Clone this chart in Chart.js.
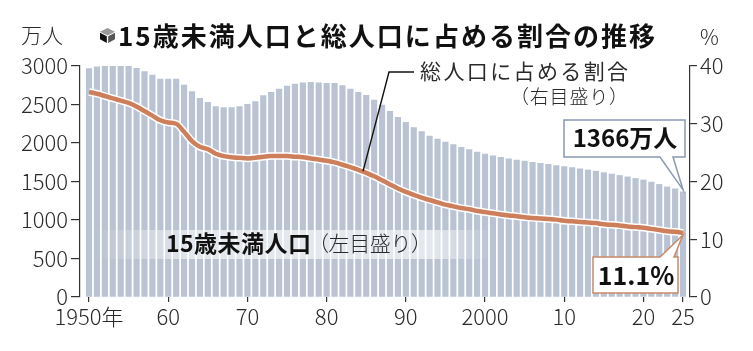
<!DOCTYPE html>
<html><head><meta charset="utf-8">
<script src="https://cdn.jsdelivr.net/npm/chart.js@4/dist/chart.umd.min.js"></script>
<style>html,body{margin:0;padding:0;background:#fff;}#wrap{width:753px;height:351px;}</style>
</head><body><div id="wrap"><canvas id="c" width="753" height="351"></canvas></div>
<script>
const years = [1950,1951,1952,1953,1954,1955,1956,1957,1958,1959,1960,1961,1962,1963,1964,1965,1966,1967,1968,1969,1970,1971,1972,1973,1974,1975,1976,1977,1978,1979,1980,1981,1982,1983,1984,1985,1986,1987,1988,1989,1990,1991,1992,1993,1994,1995,1996,1997,1998,1999,2000,2001,2002,2003,2004,2005,2006,2007,2008,2009,2010,2011,2012,2013,2014,2015,2016,2017,2018,2019,2020,2021,2022,2023,2024,2025];
const under15 = [2965,2990,2995,3000,3010,3005,2970,2926,2883,2831,2831,2831,2753,2667,2580,2528,2472,2459,2459,2472,2502,2537,2615,2658,2701,2740,2766,2783,2788,2783,2775,2775,2745,2701,2658,2619,2558,2494,2410,2333,2268,2199,2147,2091,2052,2013,1978,1944,1913,1883,1857,1835,1814,1796,1779,1766,1749,1735,1722,1708,1694,1680,1665,1650,1635,1615,1597,1578,1560,1540,1520,1493,1462,1430,1405,1366];
const ratio = [35.5,35.2,34.8,34.4,34.0,33.6,33.0,32.2,31.4,30.6,30.2,30.0,28.6,27.0,26.0,25.6,24.8,24.4,24.2,24.1,24.0,24.1,24.3,24.4,24.4,24.4,24.3,24.2,24.0,23.8,23.6,23.3,22.9,22.5,22.0,21.5,20.9,20.2,19.5,18.8,18.2,17.7,17.2,16.8,16.4,16.0,15.7,15.4,15.2,14.9,14.7,14.5,14.3,14.1,14.0,13.8,13.7,13.6,13.5,13.4,13.2,13.1,13.0,12.9,12.8,12.6,12.5,12.4,12.2,12.1,12.0,11.8,11.6,11.4,11.3,11.1];
const xTickValues = [1950,1960,1970,1980,1990,2000,2010,2020,2025];
const xTickLabels = ['1950年','60','70','80','90','2000','10','20','25'];
const title = '15歳未満人口と総人口に占める割合の推移';
const leftUnit = '万人';
const rightUnit = '%';
const lineLabel1 = '総人口に占める割合';
const lineLabel2 = '（右目盛り）';
const barLabelBold = '15歳未満人口';
const barLabelNorm = '（左目盛り）';
const lastBarText = '1366万人';
const lastRatioText = '11.1%';

const FF = "'Noto Sans CJK JP','Noto Sans',sans-serif";
const BAR = '#bac3d4';
const LINE = '#cd7f5b';
const TXT = '#2a2a2a';

function spaced(ctx, text, x, y, w) {
  const ch = [...text];
  const ws = ch.map(c => ctx.measureText(c).width);
  const tot = ws.reduce((a,b)=>a+b,0);
  const gap = ch.length > 1 ? (w - tot)/(ch.length-1) : 0;
  let cx = x;
  ch.forEach((c,i)=>{ ctx.fillText(c, cx, y); cx += ws[i] + gap; });
}

const deco = {
  id: 'deco',
  afterDatasetsDraw(chart) {
    const ctx = chart.ctx;
    ctx.save();
    const g = ctx.createLinearGradient(95, 0, 492, 0);
    g.addColorStop(0, 'rgba(255,255,255,0)');
    g.addColorStop(0.25, 'rgba(255,255,255,0.6)');
    g.addColorStop(0.85, 'rgba(255,255,255,0.6)');
    g.addColorStop(1, 'rgba(255,255,255,0)');
    ctx.fillStyle = g;
    ctx.fillRect(95, 230, 397, 29);
    ctx.restore();
  },
  afterDraw(chart) {
    const ctx = chart.ctx;
    const xs = chart.scales.x, ys = chart.scales.y, y1 = chart.scales.y1;
    ctx.save();
    ctx.textBaseline = 'middle';
    // cube icon
    const cx = 107.5, cy = 35.5, r = 7.5;
    ctx.fillStyle = '#9a9a9a';
    ctx.beginPath(); ctx.moveTo(cx, cy-r); ctx.lineTo(cx+r, cy-r/2); ctx.lineTo(cx, cy); ctx.lineTo(cx-r, cy-r/2); ctx.closePath(); ctx.fill();
    ctx.fillStyle = '#111';
    ctx.beginPath(); ctx.moveTo(cx-r, cy-r/2+1); ctx.lineTo(cx-0.7, cy+0.7); ctx.lineTo(cx-0.7, cy+r); ctx.lineTo(cx-r, cy+r/2); ctx.closePath(); ctx.fill();
    ctx.fillStyle = '#555';
    ctx.beginPath(); ctx.moveTo(cx+r, cy-r/2+1); ctx.lineTo(cx+0.7, cy+0.7); ctx.lineTo(cx+0.7, cy+r); ctx.lineTo(cx+r, cy+r/2); ctx.closePath(); ctx.fill();
    // title
    ctx.fillStyle = '#111';
    ctx.font = 'bold 26px ' + FF;
    ctx.textAlign = 'left';
    spaced(ctx, title, 118, 36, 537);
    // units
    ctx.fillStyle = TXT;
    ctx.font = '300 21px ' + FF;
    ctx.fillText(leftUnit, 21, 35);
    ctx.fillText(rightUnit, 700, 37);
    // line annotation
    ctx.font = '21px ' + FF;
    spaced(ctx, lineLabel1, 420, 71, 208);
    ctx.font = '300 19px ' + FF;
    spaced(ctx, lineLabel2, 510, 97, 118);
    // leader line
    const px = xs.getPixelForValue(1984.6), py = y1.getPixelForValue(21.8);
    ctx.strokeStyle = '#111'; ctx.lineWidth = 1.4;
    ctx.beginPath(); ctx.moveTo(px, py); ctx.lineTo(389, 72); ctx.lineTo(414, 72); ctx.stroke();
    // bar label
    ctx.fillStyle = '#111';
    ctx.font = 'bold 23px ' + FF;
    spaced(ctx, barLabelBold, 166, 243, 145);
    ctx.font = '300 21px ' + FF;
    ctx.fillStyle = TXT;
    spaced(ctx, barLabelNorm, 308, 243, 124);
    // callout 1366
    const lastX = xs.getPixelForValue(years[years.length-1]);
    const barTop = ys.getPixelForValue(under15[under15.length-1]);
    ctx.fillStyle = '#fff';
    ctx.strokeStyle = '#8a98b2'; ctx.lineWidth = 1.5;
    ctx.beginPath();
    ctx.moveTo(564, 120); ctx.lineTo(685, 120); ctx.lineTo(685, 157); ctx.lineTo(673, 157);
    ctx.lineTo(lastX, barTop - 2); ctx.lineTo(660, 157); ctx.lineTo(564, 157); ctx.closePath();
    ctx.fill(); ctx.stroke();
    ctx.fillStyle = '#111';
    ctx.font = 'bold 24px ' + FF;
    ctx.textAlign = 'center';
    ctx.fillText(lastBarText, 625, 138);
    // callout 11.1%
    const lineY = y1.getPixelForValue(ratio[ratio.length-1]);
    ctx.fillStyle = '#fff';
    ctx.strokeStyle = '#c98a6a'; ctx.lineWidth = 1.5;
    ctx.beginPath();
    ctx.moveTo(593, 257); ctx.lineTo(660, 257); ctx.lineTo(lastX, lineY + 2); ctx.lineTo(674, 257);
    ctx.lineTo(678, 257); ctx.lineTo(678, 293); ctx.lineTo(593, 293); ctx.closePath();
    ctx.fill(); ctx.stroke();
    ctx.fillStyle = '#111';
    ctx.font = 'bold 25px ' + FF;
    ctx.fillText(lastRatioText, 636, 275);
    ctx.restore();
  }
};

const barData = years.map((y,i)=>({x:y, y:under15[i]}));
const lineData = years.map((y,i)=>({x:y, y:ratio[i]}));
const tickFont = { family: FF, size: 22, weight: '300' };

new Chart(document.getElementById('c'), {
  data: {
    datasets: [
      { type:'line', data: lineData, yAxisID:'y1', borderColor: LINE, borderWidth: 4.5, pointRadius: 0, cubicInterpolationMode:'monotone', order: 1 },
      { type:'line', data: lineData, yAxisID:'y1', borderColor: '#fff', borderWidth: 7.5, pointRadius: 0, cubicInterpolationMode:'monotone', order: 2 },
      { type:'bar', data: barData, yAxisID:'y', backgroundColor: BAR, barThickness: 5.5, order: 3 }
    ]
  },
  options: {
    responsive: false,
    animation: false,
    events: [],
    layout: { padding: { top: 66, left: 0, right: 0, bottom: 0 } },
    plugins: { legend: { display: false }, tooltip: { enabled: false } },
    scales: {
      x: {
        type: 'linear', min: 1948.86, max: 2025.88, offset: false,
        afterBuildTicks: s => { s.ticks = xTickValues.map(v => ({ value: v })); },
        afterFit: s => { s.height = 54; },
        ticks: { autoSkip: false, maxRotation: 0, padding: 1, color: TXT, font: tickFont,
          callback: v => xTickLabels[xTickValues.indexOf(v)] },
        grid: { offset: false, drawOnChartArea: false, tickLength: 5, color: '#333', lineWidth: 1.2 },
        border: { display: false }
      },
      y: {
        position: 'left', min: 0, max: 3000,
        afterFit: s => { s.width = 80; },
        ticks: { stepSize: 500, padding: 3, color: TXT, font: tickFont, callback: v => String(v) },
        grid: { drawOnChartArea: false, tickLength: 9, color: '#333', lineWidth: 1.2 },
        border: { display: true, color: '#333', width: 1.2 }
      },
      y1: {
        position: 'right', min: 0, max: 40,
        afterFit: s => { s.width = 63; },
        ticks: { stepSize: 10, padding: 3, color: TXT, font: tickFont, callback: v => String(v) },
        grid: { drawOnChartArea: false, tickLength: 7, color: '#333', lineWidth: 1.2 },
        border: { display: true, color: '#333', width: 1.2 }
      }
    }
  },
  plugins: [deco]
});
</script></body></html>
